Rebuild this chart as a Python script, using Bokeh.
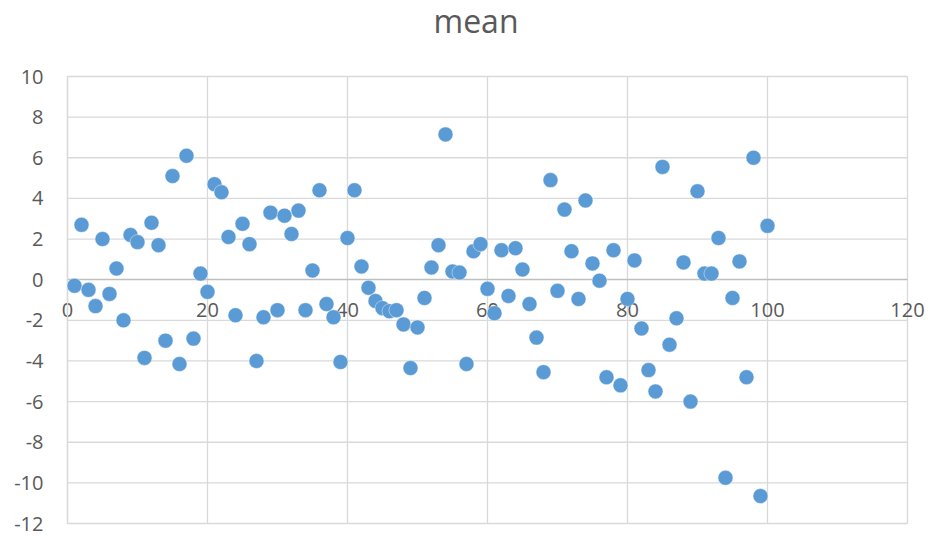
from bokeh.plotting import figure
from bokeh.models import Range1d, FixedTicker, ColumnDataSource, LinearAxis
from bokeh.core.properties import value
from bokeh.embed import file_html
from bokeh.resources import INLINE

# ---- data ----
x_index = [1, 2, 3, 4, 5, 6, 7, 8, 9, 10,
           11, 12, 13, 14, 15, 16, 17, 18, 19, 20,
           21, 22, 23, 24, 25, 26, 27, 28, 29, 30,
           31, 32, 33, 34, 35, 36, 37, 38, 39, 40,
           41, 42, 43, 44, 45, 46, 47, 48, 49, 50,
           51, 52, 53, 54, 55, 56, 57, 58, 59, 60,
           61, 62, 63, 64, 65, 66, 67, 68, 69, 70,
           71, 72, 73, 74, 75, 76, 77, 78, 79, 80,
           81, 82, 83, 84, 85, 86, 87, 88, 89, 90,
           91, 92, 93, 94, 95, 96, 97, 98, 99, 100]
mean_values = [-0.3, 2.7, -0.5, -1.3, 2.0, -0.7, 0.55, -2.0, 2.2, 1.85,
               -3.85, 2.8, 1.7, -3.0, 5.1, -4.15, 6.1, -2.9, 0.3, -0.6,
               4.7, 4.3, 2.1, -1.75, 2.75, 1.75, -4.0, -1.85, 3.3, -1.5,
               3.15, 2.25, 3.4, -1.5, 0.45, 4.4, -1.2, -1.85, -4.05, 2.05,
               4.4, 0.65, -0.4, -1.05, -1.4, -1.55, -1.5, -2.2, -4.35, -2.35,
               -0.9, 0.6, 1.7, 7.15, 0.4, 0.35, -4.15, 1.4, 1.75, -0.45,
               -1.65, 1.45, -0.8, 1.55, 0.5, -1.2, -2.85, -4.55, 4.9, -0.55,
               3.45, 1.4, -0.95, 3.9, 0.8, -0.05, -4.8, 1.45, -5.2, -0.95,
               0.95, -2.4, -4.45, -5.5, 5.55, -3.2, -1.9, 0.85, -6.0, 4.35,
               0.3, 0.3, 2.05, -9.75, -0.9, 0.9, -4.8, 6.0, -10.65, 2.65]
x_ticks = [0, 20, 40, 60, 80, 100, 120]
x_tick_labels = ["0", "20", "40", "60", "80", "100", "120"]
y_ticks = [-12, -10, -8, -6, -4, -2, 0, 2, 4, 6, 8, 10]
y_tick_labels = ["-12", "-10", "-8", "-6", "-4", "-2", "0", "2", "4", "6", "8", "10"]
title_text = "mean"

FONT = "Open Sans"
TXT = "#595959"
GRID = "#D9D9D9"
AXIS = "#BFBFBF"

# canvas geometry: plot area spans px 67..907 horizontally, 76..523 vertically
W, H = 930, 536
L, R, T, B = 67, 907, 76, 523
xmin, xmax = x_ticks[0], x_ticks[-1]
ymin, ymax = y_ticks[0], y_ticks[-1]
kx = (xmax - xmin) / (R - L)
ky = (ymax - ymin) / (B - T)
x_range = Range1d(xmin - L * kx, xmax + (W - R) * kx)
y_range = Range1d(ymin - (H - B) * ky, ymax + T * ky)

p = figure(width=W, height=H, output_backend="svg", toolbar_location=None,
           x_range=x_range, y_range=y_range,
           x_axis_location=None, y_axis_location=None,
           min_border=0)
p.outline_line_color = None
p.xgrid.visible = False
p.ygrid.visible = False
p.background_fill_color = "white"
p.border_fill_color = "white"

# gridlines (plot-area border included via the end ticks)
vg = ColumnDataSource(dict(x=x_ticks, y0=[ymin] * len(x_ticks), y1=[ymax] * len(x_ticks)))
y_grid = [t for t in y_ticks if t != 0]
hg = ColumnDataSource(dict(y=y_grid, x0=[xmin] * len(y_grid), x1=[xmax] * len(y_grid)))
p.segment(x0="x", x1="x", y0="y0", y1="y1", source=vg, line_color=GRID,
          line_width=1.3, level="underlay")
p.segment(x0="x0", x1="x1", y0="y", y1="y", source=hg, line_color=GRID,
          line_width=1.3, level="underlay")

# axes fixed at the origin
xa = LinearAxis(fixed_location=0, bounds=(xmin, xmax), ticker=FixedTicker(ticks=x_ticks),
                major_label_overrides=dict(zip(x_ticks, x_tick_labels)))
ya = LinearAxis(fixed_location=0, bounds=(ymin, ymax), ticker=FixedTicker(ticks=y_ticks),
                major_label_overrides=dict(zip(y_ticks, y_tick_labels)))
for ax in (xa, ya):
    ax.major_tick_line_color = None
    ax.minor_tick_line_color = None
    ax.major_tick_out = 0
    ax.major_tick_in = 0
    ax.major_label_text_font = FONT
    ax.major_label_text_font_size = "20px"
    ax.major_label_text_color = TXT
    ax.level = "underlay"
xa.axis_line_color = AXIS
xa.axis_line_width = 1.3
ya.axis_line_color = GRID
ya.axis_line_width = 1.3
xa.major_label_standoff = 23
ya.major_label_standoff = 24
p.add_layout(xa, "below")
p.add_layout(ya, "left")

# points
src = ColumnDataSource(dict(x=x_index, y=mean_values))
p.scatter("x", "y", source=src, size=15, fill_color="#5B9BD5",
          line_color="white", line_width=0.6, line_alpha=0.7)

# title
title_x = xmin + (475.5 - L) * kx
title_y = ymax + (T - 20) * ky
p.text(x=[title_x], y=[title_y], text=[title_text], text_align="center",
       text_baseline="alphabetic", text_font=value(FONT), text_font_size="32px",
       text_color=TXT)

open("out.html", "w").write(file_html(p, INLINE))
